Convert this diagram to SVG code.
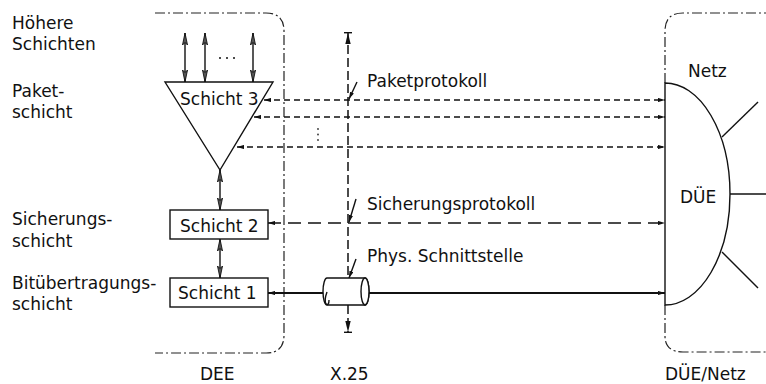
<svg xmlns="http://www.w3.org/2000/svg" width="766" height="384" viewBox="0 0 766 384">
<style>
text{font-family:"DejaVu Sans","Liberation Sans",sans-serif;font-size:17px;fill:#111}
.ln{fill:none;stroke:#111;stroke-width:1.4}
.dd{fill:none;stroke:#222;stroke-width:1.2;stroke-dasharray:10 3 2 3}
.d1{stroke:#111;stroke-width:1.4;stroke-dasharray:6 4;fill:none}
.d2{stroke:#111;stroke-width:1.4;stroke-dasharray:13 7;fill:none}
.d3{stroke:#111;stroke-width:1.5;stroke-dasharray:9 4;fill:none}
.sol{stroke:#111;stroke-width:1.9;fill:none}
.box{fill:#fff;stroke:#111;stroke-width:1.4}
</style>
<defs>
<marker id="ah" viewBox="0 0 10 6" refX="10" refY="3" markerWidth="7" markerHeight="4.5" markerUnits="userSpaceOnUse" orient="auto-start-reverse">
<path d="M0,0 L10,3 L0,6 z" fill="#111"/>
</marker>
<marker id="av" viewBox="0 0 12 6" refX="12" refY="3" markerWidth="12" markerHeight="6" markerUnits="userSpaceOnUse" orient="auto-start-reverse">
<path d="M0,0.5 L12,3 L0,5.5 L2.5,3 z" fill="#555" stroke="#111" stroke-width="0.9"/>
</marker>
<marker id="tb" viewBox="0 0 12 8" refX="12" refY="4" markerWidth="12" markerHeight="8" markerUnits="userSpaceOnUse" orient="auto-start-reverse">
<path d="M0,1.3 L11,4 L0,6.7 z" fill="#111"/>
<path d="M11.5,0 V8" stroke="#111" stroke-width="1.8"/>
</marker>
</defs>

<g id="labels-left">
<text x="12" y="29">Höhere</text>
<text x="12" y="50">Schichten</text>
<text x="12" y="97">Paket-</text>
<text x="12" y="118">schicht</text>
<text x="12" y="225">Sicherungs-</text>
<text x="12" y="247">schicht</text>
<text x="12" y="289">Bitübertragungs-</text>
<text x="12" y="310">schicht</text>
</g>

<g id="dee">
<path class="dd" d="M155,13 H266 Q284,13 284,31 V335 Q284,353 266,353 H155"/>
<text x="200" y="380">DEE</text>
</g>

<g id="netz-box">
<path class="dd" d="M665,83 V31 Q665,13 683,13 H766"/>
<path class="dd" d="M665,305 V336 Q665,352 683,352 H766"/>
<text x="688" y="77">Netz</text>
<text x="665" y="380">DÜE/Netz</text>
</g>

<g id="schicht3">
<path class="box" d="M165,82 H273 L220,170 Z"/>
<text x="180" y="105">Schicht 3</text>
</g>

<g id="schicht2">
<rect class="box" x="170" y="210" width="98" height="29"/>
<text x="180" y="232">Schicht 2</text>
</g>

<g id="schicht1">
<rect class="box" x="170" y="278" width="98" height="29"/>
<text x="178" y="299">Schicht 1</text>
</g>

<g id="x25">
<text x="330" y="380">X.25</text>
</g>

<g id="due">
<path class="box" d="M665,83 A65,111 0 0 1 665,305 Z"/>
<line class="ln" x1="722" y1="137" x2="758" y2="102"/>
<line class="ln" x1="730" y1="194" x2="766" y2="194"/>
<line class="ln" x1="722" y1="252" x2="758" y2="288"/>
<text x="680" y="203">DÜE</text>
</g>

<g id="connectors">
<line class="ln" x1="185" y1="33" x2="185" y2="82" marker-start="url(#av)" marker-end="url(#av)"/>
<line class="ln" x1="205" y1="33" x2="205" y2="82" marker-start="url(#av)" marker-end="url(#av)"/>
<line class="ln" x1="253" y1="33" x2="253" y2="82" marker-start="url(#av)" marker-end="url(#av)"/>
<circle cx="220" cy="58" r="1" fill="#111"/>
<circle cx="227" cy="58" r="1" fill="#111"/>
<circle cx="234" cy="58" r="1" fill="#111"/>
<line class="ln" x1="220" y1="170" x2="220" y2="210" marker-start="url(#av)" marker-end="url(#av)"/>
<line class="ln" x1="220" y1="239" x2="220" y2="278" marker-start="url(#av)" marker-end="url(#av)"/>
<line class="d3" x1="348" y1="32" x2="348" y2="278" marker-start="url(#tb)"/>
<line class="d3" x1="348" y1="305" x2="348" y2="333" marker-end="url(#tb)"/>
<line class="d1" x1="264" y1="100" x2="665" y2="100" marker-start="url(#ah)" marker-end="url(#ah)"/>
<line class="d1" x1="254" y1="117" x2="665" y2="117" marker-start="url(#ah)" marker-end="url(#ah)"/>
<line class="d1" x1="237" y1="147" x2="665" y2="147" marker-start="url(#ah)" marker-end="url(#ah)"/>
<circle cx="318" cy="129" r="0.9" fill="#333"/>
<circle cx="318" cy="134.5" r="0.9" fill="#333"/>
<circle cx="318" cy="140" r="0.9" fill="#333"/>
<line class="d2" x1="268" y1="223" x2="665" y2="223" marker-start="url(#ah)" marker-end="url(#ah)"/>
<line class="sol" x1="268" y1="293" x2="325" y2="293" marker-start="url(#ah)"/>
<line class="sol" x1="368" y1="293" x2="665" y2="293" marker-end="url(#ah)"/>
<line class="ln" x1="357" y1="82" x2="349" y2="99" marker-end="url(#ah)"/>
<line class="ln" x1="356" y1="199" x2="349" y2="222" marker-end="url(#ah)"/>
<line class="ln" x1="356" y1="259" x2="349" y2="278" marker-end="url(#ah)"/>
<text x="367" y="87">Paketprotokoll</text>
<text x="367" y="210">Sicherungsprotokoll</text>
<text x="367" y="262">Phys. Schnittstelle</text>
</g>

<g id="cable">
<path class="box" d="M327,278 H365 A4,13.5 0 0 1 365,305 H327 A4,13.5 0 0 1 327,278 Z"/>
<ellipse class="box" cx="365" cy="291.5" rx="4" ry="13.5"/>
<path class="ln" d="M327,292 Q324,300 326,304 Q329,306 329,300"/>
</g>
</svg>
